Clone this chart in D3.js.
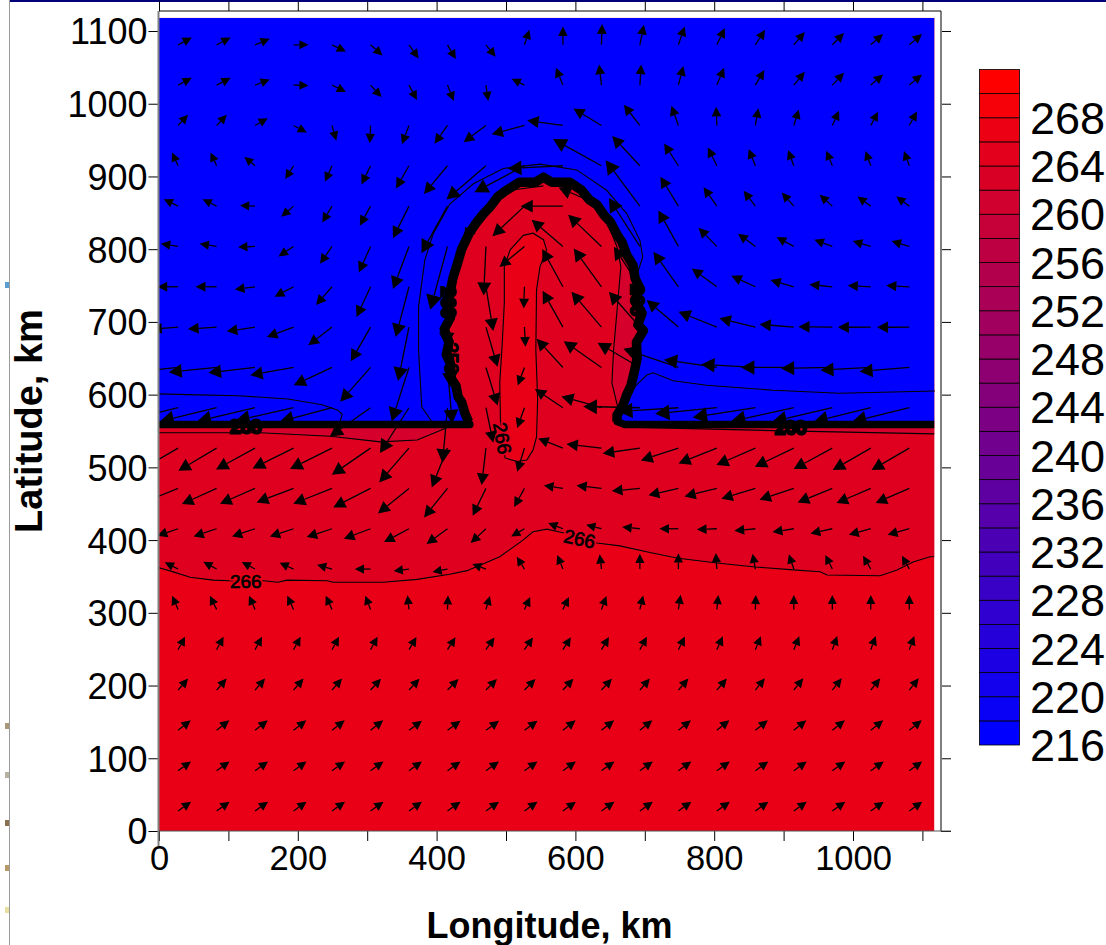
<!DOCTYPE html>
<html><head><meta charset="utf-8">
<script src="https://cdn.jsdelivr.net/npm/d3@7"></script>
<style>
html,body{margin:0;padding:0;background:#fff;overflow:hidden}
svg{display:block}
text{font-family:"Liberation Sans",Arial,sans-serif;fill:#000}
</style></head><body>
<svg id="chart" width="1106" height="945"></svg>
<script>
// ---- axes
const xTicks=[0,200,400,600,800,1000];
const yTicks=[0,100,200,300,400,500,600,700,800,900,1000,1100];
const minorXTicks=[0,100,200,300,400,500,600,700,800,900,1000,1100];
const legendLevels=[216,220,224,228,232,236,240,244,248,252,256,260,264,268];
const bandEdges=d3.range(216,274,2);
const xTitle="Longitude, km", yTitle="Latitude, km";

// ---- wind vectors on a 20 x 20 grid (rows north to south)
const gridLon=[27.5,83,138.4,193.9,249.3,304.8,360.2,415.7,471.1,526.6,582,637.5,692.9,748.4,803.8,859.3,914.7,970.2,1025.6,1081.1];
const gridLat=[1081,1025.6,970.1,914.7,859.2,803.8,748.3,692.9,637.4,582,526.5,471.1,415.6,360.2,304.7,249.3,193.8,138.4,82.9,27.5];
const windU=[
[13.7,14,14.7,15,14,12,9.7,8.3,9.7,5,0,0.7,4,6.3,8,9.7,11,11.7,12.3,12.7],
[13.7,14,14.7,15,14,11,8,6.3,2.3,-12.7,-7,-2.3,1.3,5,7.3,9,11,11.7,12.3,12.7],
[10,10.3,12.7,13.3,4.3,-0.7,-7,-13,-22.3,-32.7,-35.7,-28,-16,-7,-0.7,3,5,6.7,7.3,7.7],
[-6,-6,-10.7,-8.3,-7,-9,-13,-23.5,-39.5,-50,-55,-48.3,-27.7,-14.3,-9,-6.7,-5.7,-6,-5.3,-5.3],
[-14.3,-14,-15,-12.3,-9.7,-10.7,-16,-26,-22,-32,-42.3,-42.7,-34.3,-18,-13.3,-11.7,-12,-12.7,-13.3,-13],
[-17.3,-17,-17,-15,-12,-11.7,-16,-17.3,-2.3,-25,-31.3,-33.3,-31,-20,-18.3,-17.3,-17.3,-18,-18,-17.7],
[-20.7,-21,-20.3,-19,-16,-14,-13.3,-1,7.3,-0.7,-20.7,-27.7,-26,-25,-25,-24,-23.3,-23,-23,-23],
[-26.7,-28.7,-28.3,-26.7,-23.7,-19.7,-11,3,11.7,1,-20.3,-30,-31,-31.7,-38.3,-36,-34.3,-34,-33,-32.3],
[-47.7,-47.7,-46.7,-43.3,-38.3,-30.3,-17.3,4.7,11.7,-6.7,-26.3,-37.7,-42.3,-55,-53,-54.3,-52.7,-51.3,-50.3,-49.7],
[-56,-56.7,-58,-58,-52,-40.7,-29,-5,7.3,-7.3,-28,-40,-56.7,-60,-61.7,-62.7,-63,-60,-57,-57],
[-38,-38.3,-39,-41,-42,-38.7,-29.7,-15.7,-4.3,-7.3,-24.7,-35,-37.3,-37.5,-38.3,-39,-39,-38.7,-38,-37.7],
[-37,-34.7,-35,-37,-38.7,-37.3,-31,-23.5,-13.3,-10.3,-19,-25,-28,-30,-32.3,-34,-34.3,-34.7,-34.3,-33.7],
[-20.7,-23,-23,-23.7,-25.3,-26.7,-25,-21,-15.3,-13.3,-14.7,-15.3,-17.7,-19,-20,-21,-21.3,-22,-22,-21.7],
[-13.3,-13.3,-13.3,-14,-15,-15.7,-15.3,-15,-13.7,-7.7,-5.7,-1.7,0,0,-1,-2.7,-5,-7,-7.7,-7.3],
[-6,-6.7,-6,-6.3,-6.3,-5.3,-1.5,0.5,4,5.7,6,5,3.3,2.3,1.5,0.5,0,0,0,0],
[7,7,7,7,7,7,7.5,8,8.5,8.5,8,7.5,7,6.5,6,5.5,5.5,5,5,5],
[10,10,10,10,10,10.5,10.5,11,11,11,10.5,10.5,10,10,10,9.5,9.5,9.5,9.5,9.5],
[12.7,12.7,12.7,12.7,12.7,12.7,13,13,13,13,12.7,12.7,12.5,12.5,12.5,12.5,12.5,12.5,12.5,12.5],
[13,13,13,13,13,13,13,13,13,13,13,13,13,13,13,13,13,13,13,13],
[13,13,13,13,13,13,13,13,13,13,13,13,13,13,13,13,13,13,13,13]
];
const windV=[
[7.3,7.3,6,0,-6.7,-10.7,-13.7,-14.3,-12,15,18.3,20.7,20,18.3,16.7,15,12.7,11.7,10.7,10.7],
[7.3,7.3,5.7,-0.3,-7,-12,-15,-16,-16,6.3,17.3,20.7,20.7,19,17.3,15,13.3,12.3,10.7,10.7],
[10.7,10.7,7.3,-7,-15.3,-17.7,-18.7,-18.3,-16.7,-8.7,5,17,20.7,19.7,18.7,17.3,16,14.7,13.7,14],
[13.3,13.3,9,-13.3,-16,-18.7,-22.7,-28.3,-33.7,-26.5,-2.7,26.7,29.7,22.3,18.3,16.7,15.7,15,14.7,14.7],
[7,7,0.7,-10.7,-16.3,-19.5,-32,-47,-34,-30,0,18.7,46,29.5,19,15.3,13.7,11.3,9.7,9.7],
[2.7,2.7,-0.7,-10,-17.3,-26,-42.7,-63.3,-49,-20.7,26.7,31.7,48.3,36,18.7,12.7,9.3,6.7,5.3,5.3],
[0,0,-2.7,-10,-18.3,-30.3,-50.3,-60,-44.3,-21.7,37.7,38.3,40,35,18.3,11,6.7,2.3,1.3,1.3],
[-2,-2,-4.3,-10,-18.3,-34.3,-54,-60,-39.7,-19.7,36.3,35.3,35.3,27,15.3,8.7,2.7,0.3,-0.3,-0.3],
[-5,-4.7,-5.3,-7.7,-17.7,-34.3,-54,-56,-38,-18,28.7,26.3,24.7,18.7,7.7,3,0,-1,-2.7,-4],
[-13.7,-13.7,-13.7,-13,-13.7,-28.7,-45.3,-55,-35,-20.3,18.7,11.3,1.3,-3.7,-6,-9.7,-13.7,-14,-14,-14],
[-22,-22.7,-21.3,-20.3,-21,-26.7,-34.3,-39.3,-37,-23.7,9.7,4,-5.3,-12.3,-15.3,-17,-18.7,-21,-22,-22],
[-15,-15.7,-15.3,-14,-15.3,-19,-25,-29,-27.3,-18.7,3,3,-2.7,-6.8,-8,-10.3,-11.3,-14,-14.7,-14.7],
[-7,-7.7,-7.7,-7.7,-8.3,-10,-13.3,-15.3,-14.3,-7.7,5.7,4,1.7,0,-0.7,-2,-3.3,-4.7,-6,-6],
[6.7,7.3,7,6.3,4.3,0,-2,-3,5,12.3,14,14.7,15.3,15.7,16,15.3,14.7,14,13.3,13.3],
[13.7,13.7,13.7,13.7,13.7,13.7,14.2,14,13.3,12.3,12.3,13.3,14,14.7,14.5,14.5,14.5,14.5,14.5,14.5],
[13,13,13,13,13,13,12.7,12.5,12.3,12.3,12.5,12.7,13,13.2,13.4,13.5,13.5,13.6,13.6,13.6],
[11.5,11.5,11.5,11.5,11.5,11.3,11.3,11,11,11,11.3,11.3,11.5,11.5,11.5,11.7,11.7,11.7,11.7,11.7],
[10,10,10,10,10,10,9.7,9.7,9.7,9.7,10,10,10.2,10.2,10.2,10.2,10.2,10.2,10.2,10.2],
[9.3,9.3,9.3,9.3,9.3,9.3,9.3,9.3,9.3,9.3,9.3,9.3,9.3,9.3,9.3,9.3,9.3,9.3,9.3,9.3],
[9.3,9.3,9.3,9.3,9.3,9.3,9.3,9.3,9.3,9.3,9.3,9.3,9.3,9.3,9.3,9.3,9.3,9.3,9.3,9.3]
];

// ---- coast / cold-pool boundary (lon, lat in km)
const coast=[[0,559],[448,559],[446,563],[441,574],[436,590],[431,597],[428,612],[421,622],[420,643],[414,655],[418,672],[411,690],[420,706],[415,722],[420,744],[424,762],[430,780],[436,800],[447,822],[457,836],[467,848],[477,858],[488,872],[499,880],[519,892],[542,892],[554,899],[566,892],[592,892],[609,881],[620,868],[631,861],[642,846],[650,838],[660,820],[667,810],[674,792],[683,778],[686,760],[692,748],[686,728],[696,712],[690,696],[698,688],[688,672],[689,650],[685,632],[680,612],[674,600],[668,584],[660,572],[660,563],[671,559],[1117,559]];
// ---- contours
const contourSouth=[[0,362],[18,357],[45,349],[78,345],[102,344],[150,344],[171.5,342],[184.5,345],[242,344],[251,342],[323,342],[372,346],[419,353],[444,358],[491,377],[524.5,400],[539,411.5],[559,415],[582,410],[631,396],[664,392],[707.5,383],[748,375],[804,368.5],[859,363],[914,359],[952.5,356.5],[962.6,352],[1039,351],[1063.5,359],[1086.5,370],[1111,377],[1117,377]];
const contourInner=[[492,565],[491,616],[494,661],[497.6,726],[497.6,776],[506,799],[525,819],[539,822],[554,813],[558.5,799],[549,776],[544,744],[543,661],[545.6,593],[544,542],[539,524],[530,510],[515.6,508],[498.6,513]];
const contourDomeEast=[[662,579],[652.6,616],[655,661],[660,716],[665.5,776],[660,803],[646,836],[631,858],[609,877],[592,885.7]];
const domeEastEdge=[[592,892],[609,881],[631,861],[650,838],[667,810],[679,783],[689,755],[686,728],[695,693],[688,670],[687,634],[676,602],[667,577]];
const contourDomeWest=[[554,887],[506,881],[477,858],[451,826],[439,803]];
const contourCoastWest=[[0,547.5],[146,547.5],[247,542.7],[319,535],[372,537.7],[414,554],[425,559]];
const contourCoastEast=[[693,559],[693,555],[885,550.5],[1117,546],[1117,559]];
const contourBlueWest=[[0,601],[42,600],[114,598.5],[186,594],[235,586],[257,579],[264,573],[259,556]];
const contourArch=[[393,563],[378.6,583],[374,661],[374,721],[383,785],[395,821],[419,862],[453,890],[496,911],[549,917],[602,909],[645,881],[674,849],[693,812],[697,789],[689,766]];
const contourBlueEast=[[683.5,609],[693,618],[703,627],[712,630],[741,619],[789,613],[885,606],[981,602],[1118,605]];
const fieldTop=1118, fieldEast=1117;
// temperature value of the filled regions
const valSouth=265.4, valMid=263.2, valLow=261, valCold=216;

// contour labels: text, lon, lat, angle, halo value, blob = overprinted on the thick line
const contourLabels=[
 {t:"266",lon:125,lat:344,a:0,halo:265.4},
 {t:"266",lon:606,lat:402,a:12,halo:263.2},
 {t:"266",lon:495,lat:540,a:80,halo:263.2},
 {t:"258",lon:422,lat:650,a:90,blob:1},
 {t:"260",lon:125,lat:557,a:0,blob:2},
 {t:"260",lon:910,lat:555,a:0,blob:2},
 {t:"260",lon:418,lat:727,a:90,blob:2},
 {t:"260",lon:690,lat:730,a:90,blob:2}
];
const pageSpecks=[[285,"#5a9fd0"],[726,"#a89878"],[775,"#b8b0a0"],[823,"#8a7050"],[868,"#b89868"],[910,"#e8e0a0"]];

const svg=d3.select("#chart");
const x=d3.scaleLinear().domain([0,1000]).range([159,853]);
const y=d3.scaleLinear().domain([0,1100]).range([831,31]);
const vec=d3.scaleLinear().domain([0,100]).range([0,100]);
const color=d3.scaleLinear().domain([216,270]).range(["#0000ff","#ff0000"]);
const line=d3.line().x(d=>x(d[0])).y(d=>y(d[1]));

// page furniture
svg.append("rect").attr("x",10).attr("y",0).attr("width",1096).attr("height",2).attr("fill","#00007a");
svg.append("line").attr("x1",9.5).attr("x2",9.5).attr("y1",0).attr("y2",945).attr("stroke","#9a9a9a");
svg.append("g").selectAll("rect").data(pageSpecks).join("rect").attr("x",5).attr("y",d=>d[0]-3).attr("width",4).attr("height",6).attr("fill",d=>d[1]);

svg.append("clipPath").attr("id","plotClip").append("rect").attr("x",x(0)).attr("y",y(fieldTop)-8).attr("width",x(fieldEast)-x(0)+8).attr("height",y(0)-y(fieldTop)+8);

// filled regions
const fieldBase=svg.append("g");
fieldBase.append("rect").attr("x",x(0)).attr("y",y(fieldTop)).attr("width",x(fieldEast)-x(0)).attr("height",y(0)-y(fieldTop)).attr("fill",color(valSouth));
fieldBase.append("path").attr("d",line([...contourSouth,[fieldEast,fieldTop],[0,fieldTop]])+"Z").attr("fill",color(valMid));
fieldBase.append("path").attr("d",line(contourCoastWest)+"Z").attr("fill",color(valLow));
fieldBase.append("path").attr("d",line(contourCoastEast)+"Z").attr("fill",color(valLow));
fieldBase.append("path").attr("d",line(contourInner)+"Z").attr("fill",color(valSouth));
fieldBase.append("path").attr("d",line([...contourDomeEast,...domeEastEdge])+"Z").attr("fill",color(valLow));
fieldBase.append("path").attr("d",line([[0,fieldTop],[fieldEast,fieldTop],...coast.slice().reverse()])+"Z").attr("fill",color(valCold));

// contour lines
const thin=[contourSouth,contourInner.concat([contourInner[0]]),contourDomeEast,contourDomeWest,contourCoastWest,contourCoastEast.slice(0,4),contourBlueWest,contourArch,contourBlueEast];
svg.append("g").selectAll("path").data(thin).join("path").attr("d",line).attr("fill","none").attr("stroke","#000").attr("stroke-width",1.1);

// thick boundary
svg.append("path").attr("d",line(coast)).attr("fill","none").attr("stroke","#000").attr("stroke-width",7.5).attr("stroke-linejoin","round").attr("clip-path","url(#plotClip)");
svg.append("path").attr("d",line(coast.slice(2,-2))).attr("fill","none").attr("stroke","#000").attr("stroke-width",9.5).attr("stroke-linejoin","round");

// contour labels
const lab=svg.append("g").selectAll("g").data(contourLabels).join("g")
  .attr("transform",d=>`translate(${x(d.lon)},${y(d.lat)}) rotate(${d.a})`);
lab.filter(d=>d.halo).append("text").attr("text-anchor","middle").attr("dy","0.36em").attr("font-size",19).attr("stroke-width",4).style("stroke",d=>color(d.halo)).style("fill",d=>color(d.halo)).text(d=>d.t);
lab.append("text").attr("text-anchor","middle").attr("dy","0.36em").attr("font-size",19).attr("stroke","#000").attr("stroke-width",d=>d.blob?d.blob*1.5:0.7).text(d=>d.t);

// wind arrows
const arrows=[];
windU.forEach((row,r)=>row.forEach((u,c)=>arrows.push({lon:gridLon[c],lat:gridLat[r],u,v:windV[r][c]})));
const ag=svg.append("g").attr("clip-path","url(#plotClip)").selectAll("g").data(arrows).join("g");
ag.each(function(d){
  const x0=x(d.lon),y0=y(d.lat),dx=vec(d.u),dy=-vec(d.v),L=Math.hypot(dx,dy)||1;
  const ux=dx/L,uy=dy/L,hl=7.5+0.11*L,hw=(7+0.14*L)/2;
  const tx=x0+dx,ty=y0+dy,bx=tx-ux*hl,by=ty-uy*hl;
  const g=d3.select(this);
  g.append("line").attr("x1",x0).attr("y1",y0).attr("x2",bx).attr("y2",by).attr("stroke","#000").attr("stroke-width",1.3);
  g.append("path").attr("d",d3.line()([[tx,ty],[bx-uy*hw,by+ux*hw],[bx+uy*hw,by-ux*hw]])+"Z").attr("fill","#000");
});

// axes
const axisL=svg.append("g").attr("transform",`translate(${x(0)-0.5},0)`).call(d3.axisLeft(y).tickValues(yTicks).tickSize(10).tickFormat(d3.format("d")));
axisL.selectAll("text").attr("font-size",36).attr("dy","0.36em").attr("x",-11).style("font-family",'"Liberation Sans",Arial,sans-serif');
const axisB=svg.append("g").attr("transform",`translate(0,${y(0)})`).call(d3.axisBottom(x).tickValues(minorXTicks).tickSize(10).tickFormat(d=>xTicks.includes(d)?d:""));
axisB.selectAll("text").attr("font-size",34.5).attr("y",15).attr("dy","0.71em").style("font-family",'"Liberation Sans",Arial,sans-serif');
const rightX=941,topY=11;
svg.append("g").attr("transform",`translate(${rightX},0)`).call(d3.axisRight(y).tickValues(yTicks).tickSize(10).tickFormat(""));
svg.append("g").attr("transform",`translate(0,${topY})`).call(d3.axisTop(x).tickValues(minorXTicks).tickSize(10).tickFormat(""));
svg.selectAll(".domain").remove();
svg.append("line").attr("x1",x(0)-0.5).attr("x2",x(0)-0.5).attr("y1",topY).attr("y2",846).attr("stroke","#808080").attr("stroke-width",2);
svg.append("line").attr("x1",rightX).attr("x2",rightX).attr("y1",topY).attr("y2",y(0)).attr("stroke","#808080").attr("stroke-width",2);
svg.append("line").attr("x1",x(0)).attr("x2",rightX+10).attr("y1",y(0)).attr("y2",y(0)).attr("stroke","#555").attr("stroke-width",1);
svg.append("line").attr("x1",x(0)).attr("x2",rightX).attr("y1",topY).attr("y2",topY).attr("stroke","#000").attr("stroke-width",1);

// axis titles
svg.append("text").attr("x",549.5).attr("y",938).attr("text-anchor","middle").attr("font-size",36).attr("font-weight","bold").text(xTitle);
svg.append("text").attr("transform","translate(42,421) rotate(-90)").attr("text-anchor","middle").attr("font-size",38).attr("font-weight","bold").text(yTitle);

// legend
const ly=d3.scaleLinear().domain([216,272]).range([745,69.5]);
const lg=svg.append("g");
lg.selectAll("rect").data(bandEdges.slice(0,-1)).join("rect")
  .attr("x",979.5).attr("width",40).attr("y",d=>ly(d+2)).attr("height",d=>ly(d)-ly(d+2)).attr("fill",d=>color(d)).attr("stroke","#000").attr("stroke-width",0.8);
lg.selectAll("text").data(legendLevels).join("text").attr("x",1030).attr("y",d=>ly(d)).attr("dy","0.36em").attr("font-size",45).text(d=>d);
</script>
</body></html>
